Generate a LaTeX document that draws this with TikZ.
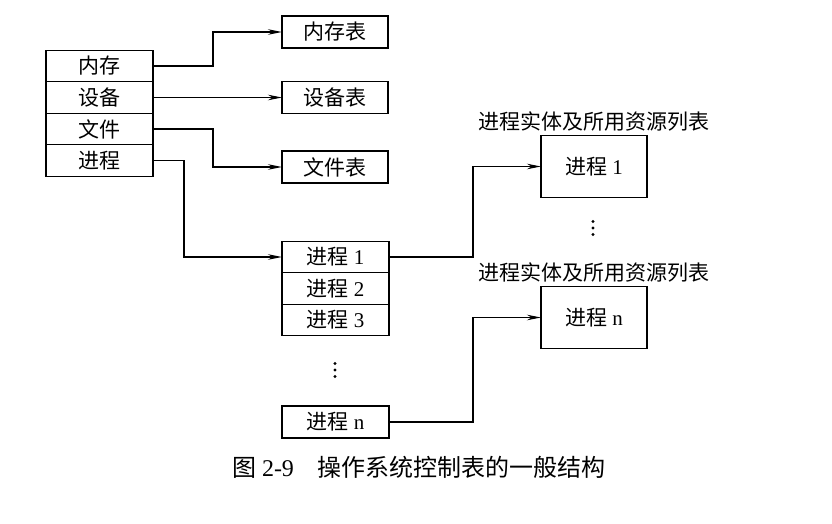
\documentclass[tikz,border=0pt]{standalone}
\usepackage{fontspec}
\setmainfont{Liberation Serif}
\newfontfamily\cjk{Noto Sans CJK SC}
\usetikzlibrary{arrows.meta, positioning}

\begin{document}
\begin{tikzpicture}[
  x=1pt, y=-1pt,
  >={Stealth[length=14pt, width=5.5pt]},
  cell/.style ={draw, line width=1.4pt, minimum width=107pt, minimum height=31.5pt,
                inner sep=0pt, outer sep=0pt, font=\fontsize{21}{24}\selectfont},
  tbl/.style  ={cell, minimum width=106pt, minimum height=32pt},
  ent/.style  ={cell, minimum width=106pt, minimum height=62pt},
  note/.style ={font=\fontsize{21}{24}\selectfont},
  arr/.style  ={->, line width=1.1pt},
]
\useasboundingbox (0,0) rectangle (832,524);

% --- system control table (left column) ---
\node[cell] (mem) at (99.5,66) {\cjk 内存};
\node[cell, below=0pt of mem]  (dev)  {\cjk 设备};
\node[cell, below=0pt of dev]  (file) {\cjk 文件};
\node[cell, below=0pt of file] (proc) {\cjk 进程};

% --- resource tables ---
\node[tbl] (memtab)  at (335,32)  {\cjk 内存表};
\node[tbl] (devtab)  at (335,97.5) {\cjk 设备表};
\node[tbl] (filetab) at (335,167) {\cjk 文件表};

% --- process table ---
\node[cell] (p1) at (335.5,257) {{\cjk 进程} 1};
\node[cell, below=0pt of p1] (p2) {{\cjk 进程} 2};
\node[cell, below=0pt of p2] (p3) {{\cjk 进程} 3};
\coordinate (dotsa) at (335,370);
\node[cell, minimum height=32pt] (pn) at (335.5,422) {{\cjk 进程} n};

% --- process entities ---
\node[ent] (ent1) at (594,166.5) {{\cjk 进程} 1};
\node[note, above=1pt of ent1] (lab1) {\cjk 进程实体及所用资源列表};
\coordinate (dotsb) at (593,228);
\node[ent] (entn) at (594,317.5) {{\cjk 进程} n};
\node[note, above=1pt of entn] (labn) {\cjk 进程实体及所用资源列表};

% vertical dots
\foreach \d in {dotsa, dotsb}
  \foreach \k in {-1,0,1}
    \fill (\d) ++(0,\k*6.5) circle (1.6pt);

% connectors
\draw[arr] (mem.east) -- ++(60,0) |- (memtab.west);
\draw[arr] (dev.east) -- (devtab.west);
\draw[arr] (file.east) -- ++(60,0) |- (filetab.west);
\draw[arr] (proc.east) -- ++(31,0) |- (p1.west);
\draw[arr] (p1.east) -- ++(84,0) |- (ent1.west);
\draw[arr] (pn.east) -- ++(84,0) |- (entn.west);

% caption
\node[font=\fontsize{24}{26}\selectfont] (cap) at (419,467)
  {{\cjk 图} 2-9\quad{\cjk 操作系统控制表的一般结构}};
\end{tikzpicture}
\end{document}
